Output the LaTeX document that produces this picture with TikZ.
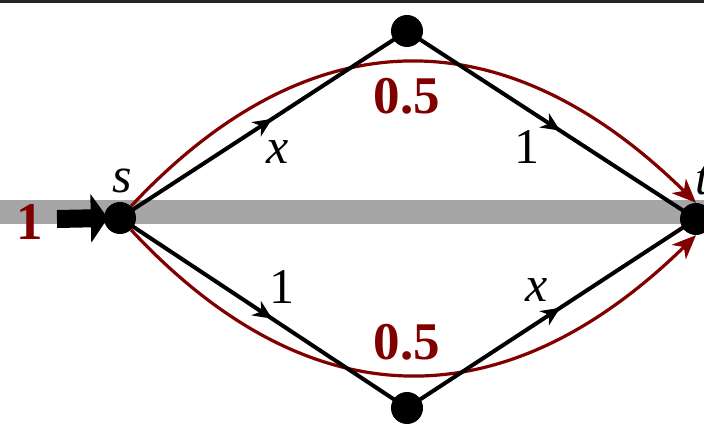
\documentclass[tikz,border=0pt]{standalone}
\usepackage{fontspec}
\setmainfont{Liberation Serif}
\usetikzlibrary{arrows.meta,decorations.markings}
\definecolor{dred}{RGB}{128,0,0}
\pgfdeclarelayer{bg}\pgfdeclarelayer{mid}
\pgfsetlayers{bg,mid,main}
\begin{document}
\begin{tikzpicture}[x=1pt,y=-1pt,
  dot/.style={circle,fill=black,minimum size=32pt,inner sep=0pt},
  lab/.style={font=\fontsize{50}{54}\selectfont,inner sep=0pt},
  wlab/.style={font=\fontsize{53}{56}\selectfont\bfseries,text=dred,inner sep=0pt},
  edge/.style={line width=4pt,postaction={decorate},decoration={markings,
     mark=at position 0.53 with {\arrow{Stealth[length=19pt,width=17pt,inset=6pt]}}}},
  flow/.style={draw=dred,line width=3.2pt,-{Stealth[length=24pt,width=20pt,inset=7pt]}}
]
\useasboundingbox (0,0) rectangle (704,427);
% nodes
\node[dot] (s) at (120,218) {};
\node[dot] (a) at (407,31) {};
\node[dot] (t) at (696,219) {};
\node[dot] (b) at (407,408) {};
\coordinate (in) at (57,219);
% background band and top rule
\begin{pgfonlayer}{bg}
  \fill[gray!70] (0,200) rectangle (704,224);
  \fill[black!85] (0,0) rectangle (704,3);
\end{pgfonlayer}
% red flows
\begin{pgfonlayer}{bg}
  \draw[flow] (s) .. controls (310,15) and (505,15) .. (t.north);
  \draw[flow] (s) .. controls (310,422) and (505,422) .. (t.south);
\end{pgfonlayer}
% black edges
\begin{pgfonlayer}{mid}
  \draw[edge] (s.center) -- (a.center);
  \draw[edge] (a.center) -- (t.center);
  \draw[edge] (s.center) -- (b.center);
  \draw[edge] (b.center) -- (t.center);
\end{pgfonlayer}
% input arrow
\draw[line width=18pt,-{Triangle[length=17pt,width=48pt]}] (in) -- ([xshift=4pt]s.west);
% labels
\node[lab] (ls) at (122,181) {\itshape s};
\node[lab] (lt) at (702,181) {\itshape t};
\node[lab] (l1) at (278,152) {\itshape x};
\node[lab] (l2) at (527,147) {1};
\node[lab] (l3) at (282,287) {1};
\node[lab] (l4) at (537,290) {\itshape x};
\node[wlab] (w1) at (407,96) {0.5};
\node[wlab] (w2) at (407,342) {0.5};
\node[wlab] (w0) at (30,222) {1};
\end{tikzpicture}
\end{document}
